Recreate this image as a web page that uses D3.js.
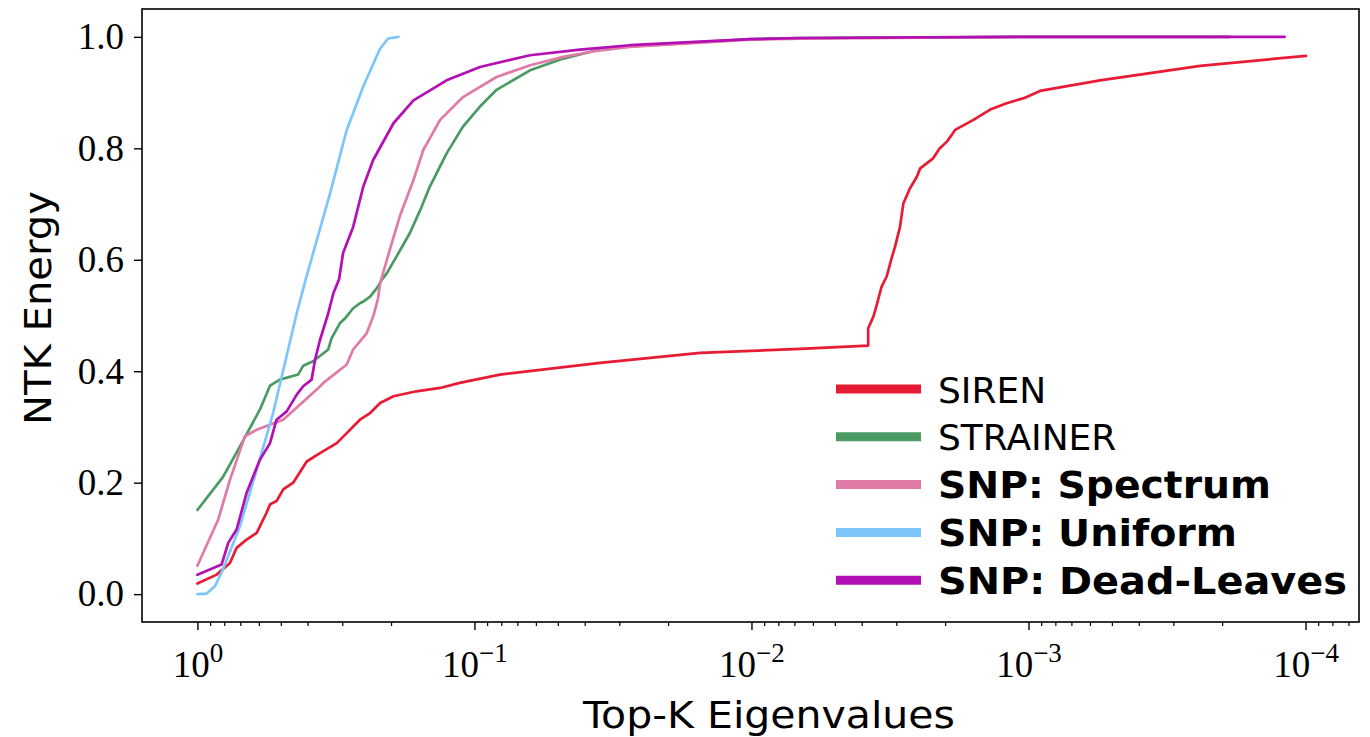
<!DOCTYPE html>
<html><head><meta charset="utf-8">
<script src="https://cdn.jsdelivr.net/npm/d3@7"></script>
<style>body{margin:0;background:#fff}svg{display:block}</style>
</head><body>
<svg id="c" width="1370" height="737"></svg>
<script>
// ---- data ----
const seriesNames = ["SIREN", "STRAINER", "SNP: Spectrum", "SNP: Uniform", "SNP: Dead-Leaves"];
const seriesBold = [false, false, true, true, true];
const seriesColors = ["#e81b35", "#4a9a64", "#e07aa6", "#7cc6fb", "#b40fb4"];

const sirenX = [1.0,0.852,0.763,0.722,0.664,0.611,0.563,0.547,0.518,0.490,0.451,0.403,0.361,0.314,0.289,0.259,0.238,0.219,0.196,0.162,0.133,0.113,0.0809,0.0352,0.0153,0.00668,0.00379,0.00379,0.00363,0.00353,0.00339,0.00325,0.00312,0.00303,0.00291,0.00283,0.00268,0.00253,0.00246,0.00221,0.00209,0.00197,0.00184,0.00158,0.00138,0.00120,0.00104,0.000909,0.000552,0.000240,0.0000996];
const sirenY = [0.019,0.035,0.056,0.083,0.098,0.110,0.146,0.161,0.167,0.188,0.200,0.238,0.253,0.271,0.289,0.313,0.325,0.343,0.355,0.364,0.370,0.379,0.394,0.415,0.433,0.440,0.446,0.477,0.498,0.519,0.552,0.570,0.603,0.624,0.659,0.701,0.728,0.749,0.764,0.782,0.800,0.812,0.833,0.851,0.869,0.881,0.890,0.903,0.922,0.948,0.966];

const strainerX = [1.0,0.807,0.702,0.595,0.547,0.504,0.433,0.415,0.382,0.337,0.328,0.306,0.293,0.274,0.259,0.252,0.238,0.225,0.216,0.207,0.191,0.171,0.157,0.145,0.126,0.110,0.0955,0.0832,0.0630,0.0478,0.0362,0.0275,0.0101,0.00668,0.001,0.000187];
const strainerY = [0.151,0.211,0.265,0.331,0.374,0.385,0.394,0.410,0.418,0.439,0.459,0.486,0.495,0.513,0.522,0.525,0.534,0.549,0.564,0.576,0.606,0.648,0.689,0.731,0.791,0.839,0.875,0.905,0.940,0.961,0.976,0.983,0.996,0.998,1.0,1.0];

const spectrumX = [1.0,0.841,0.763,0.674,0.611,0.490,0.371,0.351,0.289,0.274,0.245,0.232,0.223,0.219,0.202,0.186,0.166,0.153,0.133,0.110,0.0832,0.0630,0.0478,0.0362,0.0275,0.0101,0.00668,0.001,0.000187];
const spectrumY = [0.051,0.134,0.205,0.283,0.295,0.313,0.367,0.379,0.412,0.439,0.468,0.498,0.530,0.558,0.618,0.678,0.743,0.797,0.851,0.892,0.928,0.949,0.964,0.975,0.982,0.995,0.997,1.0,1.0];

const uniformX = [1.0,0.926,0.865,0.809,0.702,0.611,0.533,0.438,0.407,0.332,0.289,0.252,0.219,0.205,0.188];
const uniformY = [0.000,0.001,0.014,0.044,0.122,0.223,0.325,0.504,0.564,0.719,0.833,0.911,0.979,0.997,1.000];

const deadLeavesX = [1.0,0.818,0.774,0.722,0.664,0.595,0.547,0.518,0.476,0.438,0.415,0.387,0.376,0.361,0.337,0.323,0.308,0.298,0.274,0.252,0.232,0.196,0.166,0.126,0.0955,0.0630,0.0416,0.0275,0.0101,0.00668,0.001,0.000119];
const deadLeavesY = [0.035,0.053,0.092,0.116,0.182,0.241,0.271,0.313,0.328,0.358,0.373,0.385,0.421,0.456,0.504,0.540,0.565,0.612,0.659,0.731,0.779,0.845,0.886,0.922,0.946,0.967,0.977,0.985,0.996,0.998,1.0,1.0];

const yTicks = [0.0, 0.2, 0.4, 0.6, 0.8, 1.0];
const xMajorExp = [0, -1, -2, -3, -4];
const xLabel = "Top-K Eigenvalues";
const yLabel = "NTK Energy";

// ---- layout / style ----
const L = 142, R = 1359, T = 9, B = 622;
const legendTextWidths = [null, null, 333, 299, 409];
const svg = d3.select("#c");
const x = d3.scaleLog().domain([Math.pow(10, 0.2), Math.pow(10, -4.193)]).range([L, R]);
const y = d3.scaleLinear().domain([-0.05, 1.05]).range([B, T]);

const serifFont = "'Liberation Serif', 'DejaVu Serif', serif";
const sansFont = "'DejaVu Sans', Verdana, sans-serif";

const allX = [sirenX, strainerX, spectrumX, uniformX, deadLeavesX];
const allY = [sirenY, strainerY, spectrumY, uniformY, deadLeavesY];
const line = d3.line().x(d => x(d[0])).y(d => y(d[1]));

svg.append("defs").append("clipPath").attr("id","clip")
  .append("rect").attr("x", L).attr("y", T).attr("width", R - L).attr("height", B - T);

const g = svg.append("g").attr("clip-path", "url(#clip)");
allX.forEach((xs, i) => {
  const pts = xs.map((v, j) => [v, allY[i][j]]);
  g.append("path").attr("d", line(pts)).attr("fill", "none")
    .attr("stroke", seriesColors[i]).attr("stroke-width", 2.7)
    .attr("stroke-linejoin", "round").attr("stroke-linecap", "round");
});

// ---- axes ----
const yAxis = d3.axisLeft(y).tickValues(yTicks).tickFormat(d3.format(".1f")).tickSize(8).tickPadding(10);
const ya = svg.append("g").attr("transform", `translate(${L},0)`).call(yAxis);
ya.select(".domain").remove();
ya.selectAll("line").attr("stroke", "#000").attr("stroke-width", 1.4);
ya.selectAll("text").attr("font-family", serifFont).attr("font-size", 37).attr("fill", "#000");

const majors = xMajorExp.map(e => Math.pow(10, e));
const minors = [];
for (let e = 0; e >= -5; e--) for (let k = 2; k <= 9; k++) {
  const v = k * Math.pow(10, e - 1);
  if (v <= x.domain()[0] && v >= x.domain()[1]) minors.push(v);
}
const xMinorAxis = d3.axisBottom(x).tickValues(minors).tickFormat("").tickSize(4);
const xm = svg.append("g").attr("transform", `translate(0,${B})`).call(xMinorAxis);
xm.select(".domain").remove();
xm.selectAll("line").attr("stroke", "#000").attr("stroke-width", 1.2);

const xAxis = d3.axisBottom(x).tickValues(majors).tickFormat("").tickSize(8);
const xa = svg.append("g").attr("transform", `translate(0,${B})`).call(xAxis);
xa.select(".domain").remove();
xa.selectAll("line").attr("stroke", "#000").attr("stroke-width", 1.4);
xa.selectAll(".tick").each(function(d, i) {
  const t = d3.select(this).append("text").attr("y", 55).attr("text-anchor", "middle")
    .attr("font-family", serifFont).attr("font-size", 37).attr("fill", "#000");
  t.append("tspan").text("10");
  const e = xMajorExp[i];
  t.append("tspan").attr("dy", -15).attr("font-size", 27).text(e === 0 ? "0" : "\u2212" + Math.abs(e));
});

// frame
svg.append("rect").attr("x", L).attr("y", T).attr("width", R - L).attr("height", B - T)
  .attr("fill", "none").attr("stroke", "#000").attr("stroke-width", 1.6);

// axis labels
svg.append("text").attr("x", 769).attr("y", 728).attr("text-anchor", "middle")
  .attr("font-family", sansFont).attr("font-size", 38).attr("fill", "#000")
  .attr("textLength", 372).attr("lengthAdjust", "spacingAndGlyphs").text(xLabel);
svg.append("text").attr("transform", "translate(51,308) rotate(-90)").attr("text-anchor", "middle")
  .attr("font-family", sansFont).attr("font-size", 38).attr("fill", "#000")
  .attr("textLength", 234).attr("lengthAdjust", "spacingAndGlyphs").text(yLabel);

// legend
const legY0 = 389, legDy = 47.8;
seriesNames.forEach((n, i) => {
  const yy = legY0 + i * legDy;
  svg.append("line").attr("x1", 836).attr("x2", 921).attr("y1", yy).attr("y2", yy)
    .attr("stroke", seriesColors[i]).attr("stroke-width", 9);
  const t = svg.append("text").attr("x", 938).attr("y", yy + 13.5).attr("font-family", sansFont)
    .attr("font-size", seriesBold[i] ? 38 : 36).attr("font-weight", seriesBold[i] ? "bold" : "normal")
    .attr("fill", "#000").text(n);
  if (legendTextWidths[i]) t.attr("textLength", legendTextWidths[i]).attr("lengthAdjust", "spacingAndGlyphs");
});
</script>
</body></html>
